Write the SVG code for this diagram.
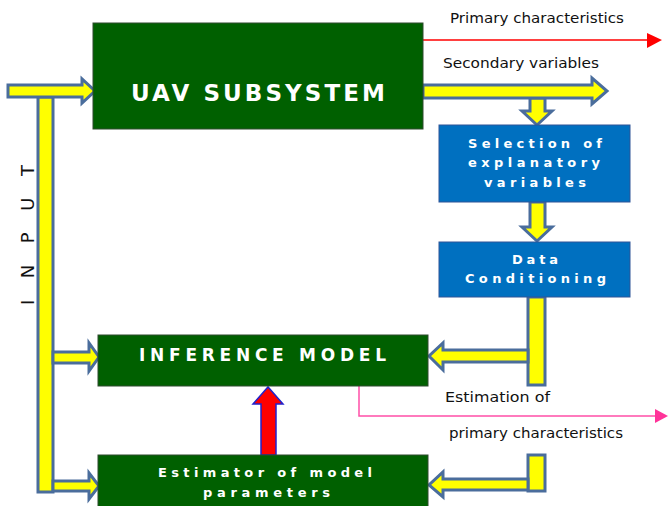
<svg xmlns="http://www.w3.org/2000/svg" width="668" height="506" viewBox="0 0 668 506">
<style>
.g{fill:#006000;stroke:#2e4a2e;stroke-width:1}
.b{fill:#0070c0;stroke:#2f5597;stroke-width:1}
.t{font-family:"DejaVu Sans","Liberation Sans",sans-serif;font-weight:bold;fill:#ffffff;text-anchor:start}
.lbl{font-family:"DejaVu Sans","Liberation Sans",sans-serif;font-size:14px;fill:#111111}
.y{fill:#ffff00;stroke:#4a6d9c;stroke-width:3;stroke-linejoin:miter}
</style>
<rect width="668" height="506" fill="#ffffff"/>
<g id="connectors">
  <rect class="y" x="38" y="97" width="15" height="395"/>
  <polygon class="y" points="8,85 82,85 82,79 95,91 82,103 82,97 8,97"/>
  <polygon class="y" points="53,352 89,352 89,343 99,357 89,371 89,363 53,363"/>
  <polygon class="y" points="53,481 89,481 89,473 99,486 89,499 89,491 53,491"/>
  <polygon class="y" points="530,98 545,98 545,111 552,111 537,125 522,111 530,111"/>
  <polygon class="y" points="423,85 592,85 592,78 607,91 592,104 592,98 423,98"/>
  <polygon class="y" points="530,202 545,202 545,227 552,227 537,241 522,227 530,227"/>
  <rect class="y" x="528" y="297" width="17" height="88"/>
  <polygon class="y" points="528,350 443,350 443,343 429,356 443,370 443,362 528,362"/>
  <rect class="y" x="528" y="455" width="17" height="36"/>
  <polygon class="y" points="528,479 443,479 443,472 429,485 443,497 443,490 528,490"/>
  <polygon points="261,455 261,404 253,404 268,387 283,404 276,404 276,455" fill="#ff0000" stroke="#2222cc" stroke-width="1.5"/>
  <line x1="423" y1="40" x2="648" y2="40" stroke="#ff0000" stroke-width="1.5"/>
  <polygon points="647,33 662,40 647,48" fill="#ff0000"/>
  <polyline points="359,386 359,416 656,416" fill="none" stroke="#ff4fa8" stroke-width="1.5"/>
  <polygon points="655,409 668,416 655,423" fill="#ff3399"/>
  <text class="lbl" x="450" y="23" textLength="174" lengthAdjust="spacingAndGlyphs">Primary characteristics</text>
  <text class="lbl" x="443" y="68" textLength="156" lengthAdjust="spacingAndGlyphs">Secondary variables</text>
  <text class="lbl" x="445" y="402" textLength="105" lengthAdjust="spacingAndGlyphs">Estimation of</text>
  <text class="lbl" x="449" y="438" textLength="174" lengthAdjust="spacingAndGlyphs">primary characteristics</text>
</g>
<g id="input-label">
  <text transform="translate(34,305) rotate(-90)" font-family="DejaVu Sans, Liberation Sans, sans-serif" font-size="18" fill="#111111" textLength="140" lengthAdjust="spacing">INPUT</text>
</g>
<g id="uav">
  <rect class="g" x="93" y="23" width="330" height="106"/>
  <text class="t" x="131" y="101" font-size="23" textLength="254" lengthAdjust="spacing">UAV SUBSYSTEM</text>
</g>
<g id="selection">
  <rect class="b" x="439" y="125" width="191" height="77"/>
  <text class="t" x="468" y="148" font-size="13" textLength="134" lengthAdjust="spacing">Selection of</text>
  <text class="t" x="468" y="167" font-size="13" textLength="132" lengthAdjust="spacing">explanatory</text>
  <text class="t" x="484" y="187" font-size="13" textLength="102" lengthAdjust="spacing">variables</text>
</g>
<g id="conditioning">
  <rect class="b" x="439" y="242" width="191" height="55"/>
  <text class="t" x="512" y="264" font-size="13" textLength="46" lengthAdjust="spacing">Data</text>
  <text class="t" x="465" y="283" font-size="13" textLength="141" lengthAdjust="spacing">Conditioning</text>
</g>
<g id="inference">
  <rect class="g" x="98" y="335" width="330" height="51"/>
  <text class="t" x="139" y="361" font-size="17" textLength="247" lengthAdjust="spacing">INFERENCE MODEL</text>
</g>
<g id="estimator">
  <rect class="g" x="98" y="455" width="330" height="52"/>
  <text class="t" x="158" y="477" font-size="13" textLength="214" lengthAdjust="spacing">Estimator of model</text>
  <text class="t" x="203" y="497" font-size="13" textLength="127" lengthAdjust="spacing">parameters</text>
</g>
</svg>
